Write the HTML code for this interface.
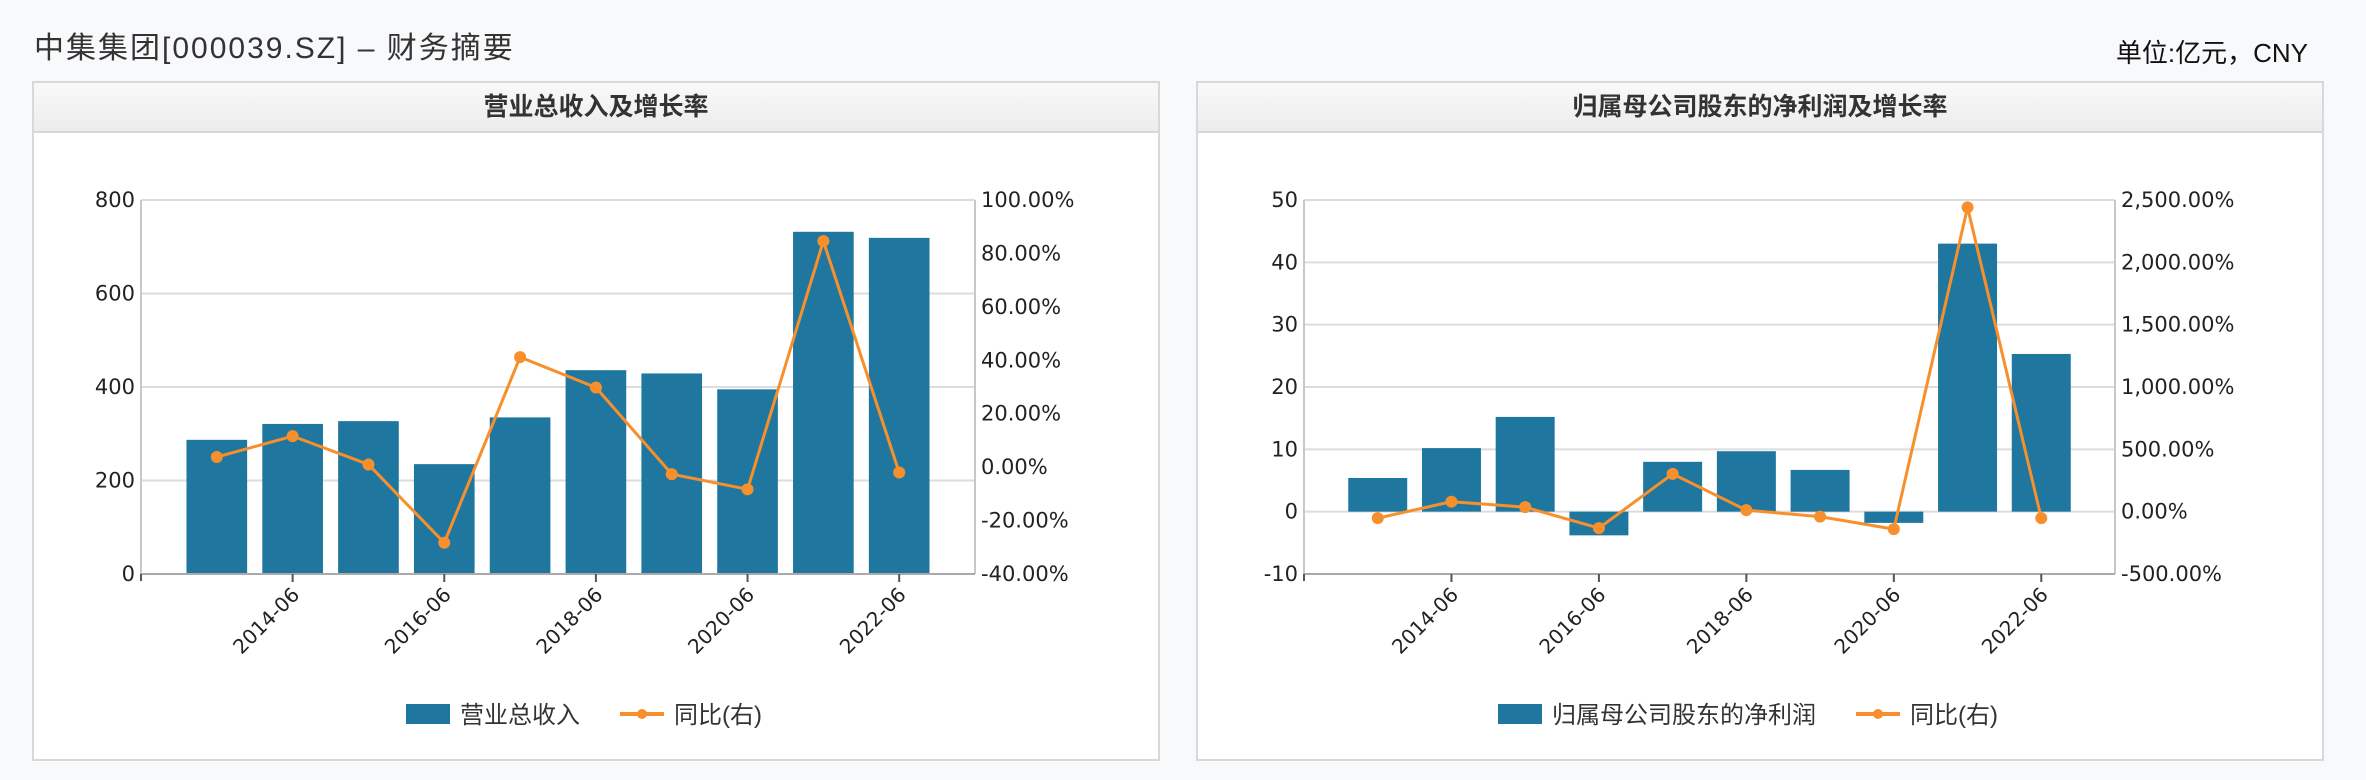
<!DOCTYPE html>
<html><head><meta charset="utf-8">
<style>
body{margin:0;width:2366px;height:780px;background:#f8f9fb;overflow:hidden;font-family:"Liberation Sans","Noto Sans CJK SC",sans-serif;position:relative}
.title{position:absolute;left:34px;top:23px;font-size:30px;letter-spacing:2px;color:#333}
.unit{position:absolute;right:58px;top:33px;font-size:26px;color:#111}
.panel{position:absolute;top:81px;width:1128px;height:680px;background:#fff;border:2px solid #d8d8d8;box-sizing:border-box}
.hdr{height:48px;background:linear-gradient(#f9f9f9,#ececec);border-bottom:2px solid #d8d8d8;text-align:center;line-height:48px;font-size:25px;font-weight:bold;color:#333}
svg{position:absolute;left:0;top:0}
</style></head><body>
<div class="title">中集集团[000039.SZ] – 财务摘要</div>
<div class="unit">单位:亿元，CNY</div>
<div class="panel" id="p1" style="left:32px"><div class="hdr">营业总收入及增长率</div></div>
<div class="panel" id="p2" style="left:1196px"><div class="hdr">归属母公司股东的净利润及增长率</div></div>
<script>
const categories=["2013-06","2014-06","2015-06","2016-06","2017-06","2018-06","2019-06","2020-06","2021-06","2022-06"];
const revenueValues=[287,321,327,235,335,436,429,395,732,719];
const revenueGrowth=[3.8,11.6,1.0,-28.3,41.2,29.8,-2.6,-8.3,84.6,-2.0];
const profitValues=[5.4,10.2,15.2,-3.8,8.0,9.7,6.7,-1.8,43.0,25.3];
const profitGrowth=[-52,80,36,-132,303,12,-40,-140,2441,-52];
const revLeftTicks=[0,200,400,600,800];
const revRightTicks=[-40,-20,0,20,40,60,80,100];
const profLeftTicks=[-10,0,10,20,30,40,50];
const profRightTicks=[-500,0,500,1000,1500,2000,2500];
const NS="http://www.w3.org/2000/svg";
function mk(tag,attrs,parent){const e=document.createElementNS(NS,tag);for(const k in attrs)e.setAttribute(k,attrs[k]);parent.appendChild(e);return e;}
function fmtPct(v){return v.toLocaleString('en-US',{minimumFractionDigits:2,maximumFractionDigits:2})+'%';}
function draw(panelId,x0,x1,bars,line,lt,rt,barName){
  const panel=document.getElementById(panelId);
  const svg=mk('svg',{width:1128,height:680},panel);
  
  
  const top=117,bot=491;
  const lmin=lt[0],lmax=lt[lt.length-1],rmin=rt[0],rmax=rt[rt.length-1];
  const yL=v=>bot-(v-lmin)/(lmax-lmin)*(bot-top);
  const yR=v=>bot-(v-rmin)/(rmax-rmin)*(bot-top);
  const band=(x1-x0)/11;
  const xC=i=>x0+(i+1)*band;
  const F='"DejaVu Sans",sans-serif';
  lt.forEach(t=>{
    const g=mk('line',{x1:x0,x2:x1,y1:yL(t),y2:yL(t),stroke:'#dcdcdc','stroke-width':2},svg);
    
    
    const tx=mk('text',{x:x0-6,y:yL(t)+7,'text-anchor':'end','font-size':21,'font-family':F,fill:'#222'},svg);
    tx.textContent=t;
    
    
  });
  rt.forEach(t=>{
    const tx=mk('text',{x:x1+6,y:yR(t)+7,'font-size':21,'font-family':F,fill:'#222'},svg);
    tx.textContent=fmtPct(t);
    
    
  });
  mk('line',{x1:x0,x2:x0,y1:top,y2:bot,stroke:'#c8c8c8','stroke-width':2},svg);
  mk('line',{x1:x1,x2:x1,y1:top,y2:bot,stroke:'#c8c8c8','stroke-width':2},svg);
  bars.forEach((v,i)=>{
    const y0=yL(0),y=yL(v);
    const r=mk('rect',{x:xC(i)-band*0.4,width:band*0.8,y:Math.min(y,y0),height:Math.abs(y0-y),fill:'#1f77a0'},svg);
    
    
  });
  mk('line',{x1:x0,x2:x1,y1:bot,y2:bot,stroke:'#aaa','stroke-width':2},svg);
  mk('line',{x1:x0,x2:x0,y1:bot,y2:bot+7,stroke:'#555','stroke-width':2},svg);
  categories.forEach((c,i)=>{
    if(i%2!==1)return;
    mk('line',{x1:xC(i),x2:xC(i),y1:bot,y2:bot+8,stroke:'#555','stroke-width':2},svg);
    const tx=mk('text',{x:xC(i)+8,y:bot+22,'text-anchor':'end','font-size':20,'font-family':F,fill:'#222',transform:`rotate(-45 ${xC(i)+8} ${bot+22})`},svg);
    tx.textContent=c;
    
    
  });
  const pts=line.map((v,i)=>xC(i)+','+yR(v)).join(' ');
  const pl=mk('polyline',{points:pts,fill:'none',stroke:'#f7902c','stroke-width':3},svg);
  
  
  line.forEach((v,i)=>{
    const c=mk('circle',{cx:xC(i),cy:yR(v),r:6,fill:'#f7902c'},svg);
    
    
  });
  const fs=24;
  const w1=barName.length*fs, total=44+10+w1+40+44+10+4*fs-20;
  let lx=(1128-total)/2-20; const ly=631;
  const sw=mk('rect',{x:lx,y:ly-10,width:44,height:20,fill:'#1f77a0'},svg);
  
  
  const t1=mk('text',{x:lx+54,y:ly+9,'font-size':fs,fill:'#333','font-family':'"Liberation Sans","Noto Sans CJK SC",sans-serif'},svg);
  t1.textContent=barName;
  
  
  lx+=54+w1+40;
  mk('line',{x1:lx,x2:lx+44,y1:ly,y2:ly,stroke:'#f7902c','stroke-width':4},svg);
  mk('circle',{cx:lx+22,cy:ly,r:5,fill:'#f7902c'},svg);
  const t2=mk('text',{x:lx+54,y:ly+9,'font-size':fs,fill:'#333','font-family':'"Liberation Sans","Noto Sans CJK SC",sans-serif'},svg);
  t2.textContent='同比(右)';
  
  
}
draw('p1',107,941,revenueValues,revenueGrowth,revLeftTicks,revRightTicks,'营业总收入');
draw('p2',106,917,profitValues,profitGrowth,profLeftTicks,profRightTicks,'归属母公司股东的净利润');
</script>
</body></html>
